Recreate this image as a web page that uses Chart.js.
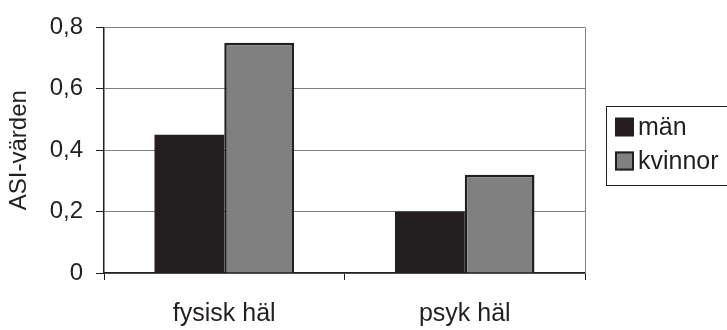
<!DOCTYPE html>
<html>
<head>
<meta charset="utf-8">
<script src="https://cdn.jsdelivr.net/npm/chart.js@4/dist/chart.umd.min.js"></script>
<style>
  html, body { margin: 0; padding: 0; background: #fff; }
  #wrap { width: 727px; height: 330px; position: relative; }
</style>
</head>
<body>
<div id="wrap"><canvas id="c"></canvas></div>
<script>
// ASI values by health domain and sex
const categories = ['fysisk häl', 'psyk häl'];
const menValues = [0.45, 0.2];
const womenValues = [0.75, 0.32];
const seriesNames = ['män', 'kvinnor'];
const yTicks = [0, 0.2, 0.4, 0.6, 0.8];
const yTitle = 'ASI-värden';

const FONT = "'Liberation Sans', Arial, sans-serif";
const INK = '#231f20';
const GREY = '#808080';

// Framed legend to the right of the plot area
const boxedLegend = {
  id: 'boxedLegend',
  afterDraw(chart) {
    const ctx = chart.ctx;
    const a = chart.chartArea;
    const x0 = a.right + 21, y0 = 106, w = 140, h = 79;
    ctx.save();
    ctx.strokeStyle = INK;
    ctx.lineWidth = 1;
    ctx.strokeRect(x0 + 0.5, y0 + 0.5, w, h);
    ctx.font = '25px ' + FONT;
    ctx.textBaseline = 'middle';
    chart.data.datasets.forEach((ds, i) => {
      const cy = y0 + 21 + i * 34;
      const sx = x0 + 9, s = 19;
      ctx.fillStyle = ds.backgroundColor;
      ctx.fillRect(sx, cy - s / 2, s, s);
      if (ds.borderWidth) {
        ctx.strokeStyle = ds.borderColor;
        ctx.lineWidth = 2;
        ctx.strokeRect(sx + 1, cy - s / 2 + 1, s - 2, s - 2);
      }
      ctx.fillStyle = INK;
      ctx.fillText(ds.label, sx + s + 4, cy + 1);
    });
    ctx.restore();
  }
};

// Right edge of the plot frame
const plotFrame = {
  id: 'plotFrame',
  beforeDatasetsDraw(chart) {
    const ctx = chart.ctx;
    const a = chart.chartArea;
    ctx.save();
    ctx.strokeStyle = GREY;
    ctx.lineWidth = 1;
    ctx.beginPath();
    ctx.moveTo(Math.round(a.right) + 0.5, a.top);
    ctx.lineTo(Math.round(a.right) + 0.5, a.bottom);
    ctx.stroke();
    ctx.restore();
  }
};

new Chart(document.getElementById('c'), {
  type: 'bar',
  data: {
    labels: categories,
    datasets: [
      {
        label: seriesNames[0],
        data: menValues,
        backgroundColor: INK,
        borderColor: INK,
        borderWidth: 0
      },
      {
        label: seriesNames[1],
        data: womenValues,
        backgroundColor: GREY,
        borderColor: INK,
        borderWidth: 2.5
      }
    ]
  },
  options: {
    responsive: true,
    maintainAspectRatio: false,
    animation: false,
    devicePixelRatio: 1,
    categoryPercentage: 0.58,
    barPercentage: 1.0,
    layout: { padding: { left: 0, right: 142, top: 19, bottom: 0 } },
    plugins: {
      legend: { display: false },
      tooltip: { enabled: false }
    },
    scales: {
      x: {
        grid: {
          offset: true,
          drawOnChartArea: false,
          tickLength: 7,
          tickColor: INK,
          lineWidth: 1
        },
        border: { color: INK, width: 1.5 },
        ticks: {
          color: INK,
          font: { family: FONT, size: 25 },
          padding: 19
        },
        afterFit(scale) { scale.height = 57; }
      },
      y: {
        min: 0,
        max: 0.8,
        afterBuildTicks(scale) {
          scale.ticks = yTicks.map(v => ({ value: v }));
        },
        ticks: {
          color: INK,
          font: { family: FONT, size: 24 },
          padding: 13,
          callback: v => (v === 0 ? '0' : v.toFixed(1).replace('.', ','))
        },
        grid: {
          color: GREY,
          lineWidth: 1,
          tickColor: INK,
          tickLength: 8
        },
        border: { color: INK, width: 1.5 },
        title: {
          display: true,
          text: yTitle,
          color: INK,
          font: { family: FONT, size: 24 },
          padding: { top: 5, bottom: 0 }
        },
        afterFit(scale) { scale.width = 104; }
      }
    }
  },
  plugins: [plotFrame, boxedLegend]
});
</script>
</body>
</html>
